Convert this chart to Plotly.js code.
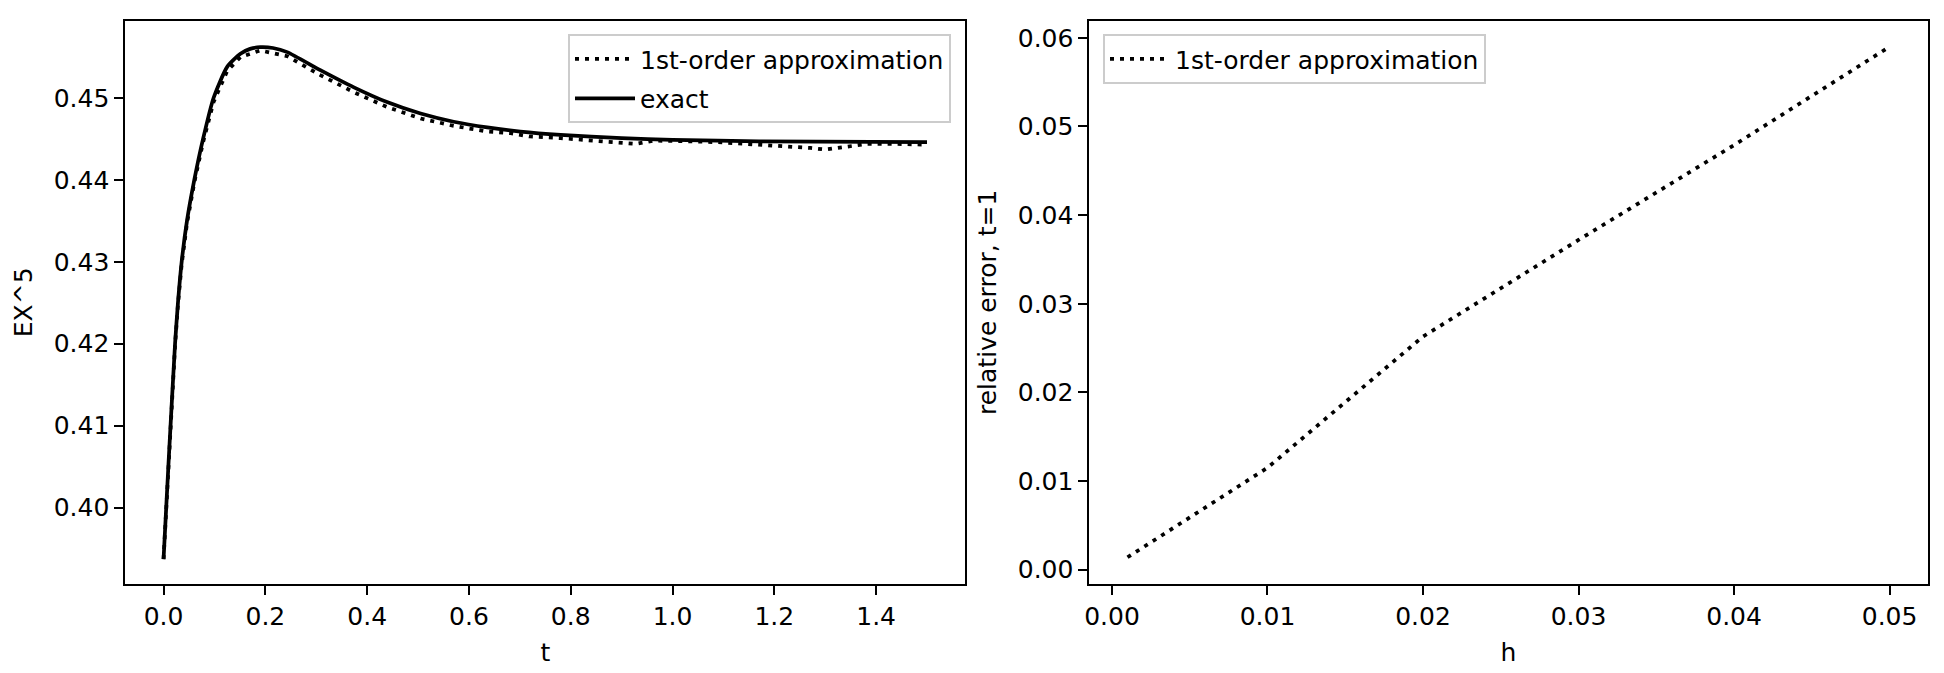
<!DOCTYPE html>
<html>
<head>
<meta charset="utf-8">
<script src="https://cdn.plot.ly/plotly-3.0.1.min.js"></script>
<style>
  html, body { margin: 0; padding: 0; background: #fff; }
  #chart { width: 1944px; height: 673px; }
</style>
</head>
<body>
<div id="chart"></div>
<script>
// left panel: EX^5 over time
const tExact = [0, 0.0052, 0.0137, 0.0226, 0.0283, 0.0356, 0.046, 0.0604, 0.0776, 0.0982, 0.125, 0.151, 0.17, 0.19, 0.215, 0.243,
    0.308, 0.374, 0.439, 0.505, 0.57, 0.636, 0.701, 0.78, 0.9, 1.0, 1.17, 1.5];
const exactVals = [0.3937, 0.4000, 0.4100, 0.4200, 0.4250, 0.4300, 0.4350, 0.4400, 0.4450, 0.4500, 0.4538, 0.4554, 0.4560, 0.4562, 0.4561, 0.4556,
    0.4534, 0.4513, 0.4495, 0.4481, 0.4471, 0.4464, 0.4459, 0.4455, 0.4451, 0.4449, 0.4447, 0.4446];

const tApprox = [0, 0.0052, 0.0137, 0.0226, 0.0283, 0.0356, 0.046, 0.0604, 0.0776, 0.0982, 0.125, 0.151, 0.19, 0.243, 0.308,
    0.374, 0.439, 0.505, 0.57, 0.636, 0.682, 0.72, 0.78, 0.83, 0.878, 0.929, 0.963, 1.0, 1.042, 1.09, 1.14,
    1.205, 1.24, 1.271, 1.30, 1.337, 1.383, 1.435, 1.5];
const approxVals = [0.3937, 0.4000, 0.4099, 0.4198, 0.4248, 0.4297, 0.4347, 0.4397, 0.4446, 0.4495, 0.4533, 0.4550, 0.4558, 0.4551, 0.4528,
    0.4507, 0.4489, 0.4475, 0.4466, 0.4459, 0.4457, 0.4453, 0.4451, 0.4449, 0.4447, 0.4444, 0.4448, 0.4447, 0.4447, 0.4446, 0.4444,
    0.4442, 0.4440, 0.4439, 0.4437, 0.4440, 0.4444, 0.4444, 0.4443];

// right panel: relative error at t=1 vs step size
const hVals = [0.001, 0.01, 0.02, 0.03, 0.04, 0.05];
const errVals = [0.0014, 0.0115, 0.0263, 0.0372, 0.0479, 0.0590];

const FONT = "DejaVu Sans, Liberation Sans, sans-serif";
const LW = 3.75;
const DOT = "4px,6px";

const traces = [
    {
        x: tApprox, y: approxVals, xaxis: "x", yaxis: "y",
        type: "scatter", mode: "lines", name: "1st-order approximation",
        line: { color: "#000", width: LW, dash: DOT },
        legend: "legend", legendgroup: "a",
    },
    {
        x: tExact, y: exactVals, xaxis: "x", yaxis: "y",
        type: "scatter", mode: "lines", name: "exact",
        line: { color: "#000", width: LW, shape: "spline", smoothing: 0.6 },
        legend: "legend", legendgroup: "b",
    },
    {
        x: hVals, y: errVals, xaxis: "x2", yaxis: "y2",
        type: "scatter", mode: "lines", name: "1st-order approximation",
        line: { color: "#000", width: LW, dash: DOT },
        legend: "legend2",
    },
];

const axisBase = {
    showline: true, mirror: true, linecolor: "#000", linewidth: 2,
    ticks: "outside", ticklen: 9, tickwidth: 2, tickcolor: "#000",
    showgrid: false, zeroline: false,
    tickfont: { family: FONT, size: 25, color: "#000" },
    title: { font: { family: FONT, size: 25, color: "#000" } },
};

const legendBase = {
    font: { family: FONT, size: 25, color: "#000" },
    bgcolor: "rgba(255,255,255,0.8)",
    bordercolor: "#cccccc",
    borderwidth: 2,
    yanchor: "top",
    itemwidth: 60,
    tracegroupgap: 4,
};

const layout = {
    width: 1944,
    height: 673,
    margin: { l: 0, r: 0, t: 0, b: 0 },
    paper_bgcolor: "#fff",
    plot_bgcolor: "#fff",
    font: { family: FONT, size: 25, color: "#000" },
    xaxis: {
        ...axisBase, domain: [0.0645, 0.4965], anchor: "y",
        range: [-0.075, 1.575], tick0: 0, dtick: 0.2, tickformat: ".1f",
        title: { ...axisBase.title, text: "t", standoff: 14 },
    },
    yaxis: {
        ...axisBase, domain: [0.1327, 0.9688], anchor: "x",
        range: [0.3907, 0.4594], tick0: 0.40, dtick: 0.01, tickformat: ".2f",
        title: { ...axisBase.title, text: "EX^5", standoff: 14 },
    },
    xaxis2: {
        ...axisBase, domain: [0.5604, 0.9916], anchor: "y2",
        range: [-0.00145, 0.05245], tick0: 0, dtick: 0.01, tickformat: ".2f",
        title: { ...axisBase.title, text: "h", standoff: 14 },
    },
    yaxis2: {
        ...axisBase, domain: [0.1327, 0.9688], anchor: "x2",
        range: [-0.00158, 0.0619], tick0: 0, dtick: 0.01, tickformat: ".2f",
        title: { ...axisBase.title, text: "relative error, t=1", standoff: 14 },
    },
    legend: { ...legendBase, x: 951 / 1944, xanchor: "right", y: 1 - 34 / 673 },
    legend2: { ...legendBase, x: 1103 / 1944, xanchor: "left", y: 1 - 34 / 673 },
    showlegend: true,
};

Plotly.newPlot("chart", traces, layout, { displayModeBar: false, staticPlot: true });
</script>
</body>
</html>
